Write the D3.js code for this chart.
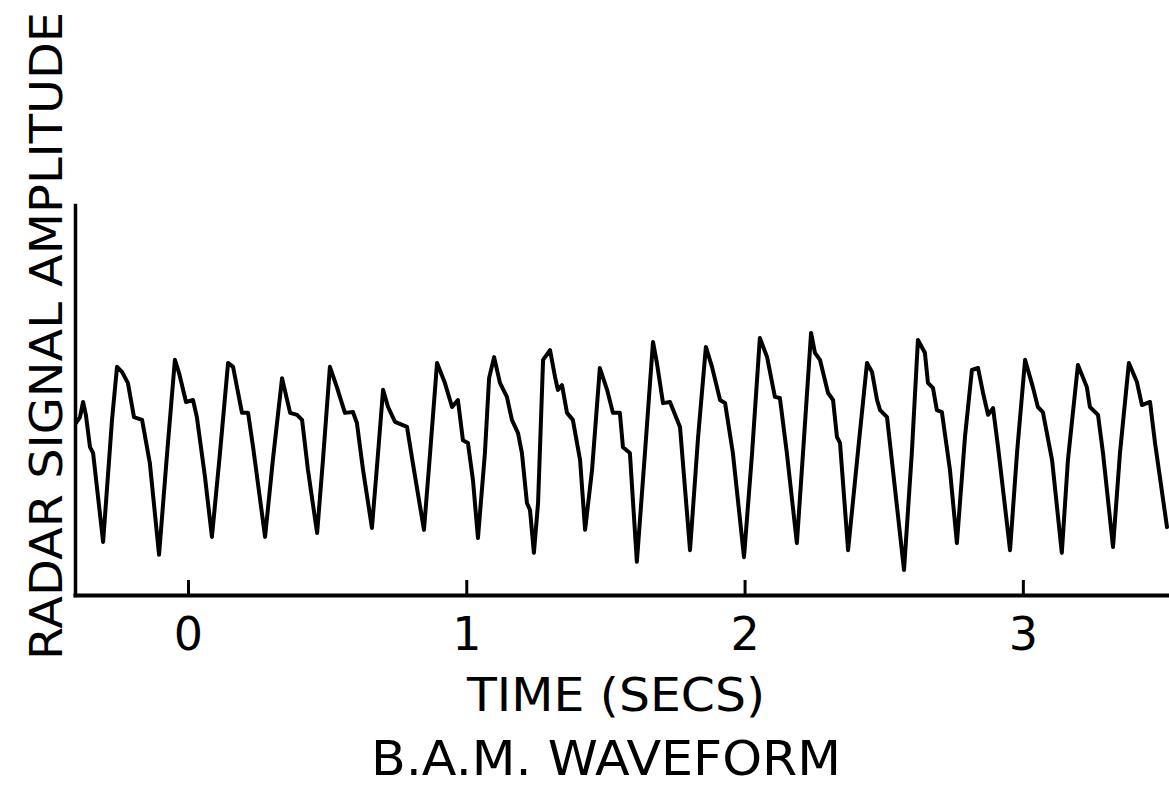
<!DOCTYPE html>
<html>
<head>
<meta charset="utf-8">
<script src="https://cdn.jsdelivr.net/npm/d3@7"></script>
<style>
  html, body { margin: 0; padding: 0; background: #ffffff; }
  svg { display: block; }
</style>
</head>
<body>
<svg id="chart" width="1169" height="786"></svg>
<script>
// ---- data ----
const timeSecs = [
  -0.402, -0.388, -0.377, -0.367, -0.352, -0.341, -0.305, -0.273, -0.255, -0.237,
  -0.216, -0.194, -0.165, -0.137, -0.104, -0.075, -0.047, -0.032, -0.007, 0.018,
  0.032, 0.061, 0.086, 0.115, 0.144, 0.162, 0.194, 0.216, 0.234, 0.277,
  0.305, 0.338, 0.367, 0.392, 0.410, 0.431, 0.464, 0.485, 0.510, 0.535,
  0.564, 0.593, 0.607, 0.629, 0.661, 0.683, 0.701, 0.719, 0.744, 0.787,
  0.808, 0.848, 0.870, 0.895, 0.923, 0.949, 0.970, 0.988, 1.006, 1.024,
  1.042, 1.067, 1.082, 1.100, 1.121, 1.146, 1.164, 1.186, 1.200, 1.218,
  1.229, 1.243, 1.258, 1.276, 1.301, 1.319, 1.329, 1.344, 1.362, 1.383,
  1.409, 1.427, 1.452, 1.480, 1.506, 1.527, 1.552, 1.563, 1.588, 1.613,
  1.642, 1.671, 1.685, 1.707, 1.732, 1.768, 1.804, 1.833, 1.861, 1.883,
  1.912, 1.930, 1.958, 1.998, 2.027, 2.055, 2.081, 2.109, 2.127, 2.152,
  2.188, 2.210, 2.239, 2.253, 2.271, 2.300, 2.318, 2.332, 2.343, 2.372,
  2.407, 2.440, 2.458, 2.476, 2.487, 2.512, 2.533, 2.573, 2.601, 2.623,
  2.648, 2.659, 2.677, 2.691, 2.709, 2.738, 2.763, 2.792, 2.817, 2.839,
  2.857, 2.875, 2.893, 2.911, 2.954, 2.979, 3.008, 3.036, 3.054, 3.072,
  3.105, 3.140, 3.162, 3.198, 3.230, 3.241, 3.270, 3.288, 3.324, 3.349,
  3.381, 3.410, 3.428, 3.457, 3.475, 3.518
];
const amplitude = [
  44.1, 45.6, 49.5, 46.2, 37.9, 36.4, 13.6, 44.9, 58.5, 57.2,
  54.4, 45.6, 44.9, 33.8, 10.3, 36.4, 60.3, 56.9, 49.5, 50.0,
  45.6, 30.3, 14.9, 36.4, 59.5, 58.5, 46.7, 46.7, 37.9, 14.9,
  34.6, 55.6, 46.7, 46.2, 44.9, 32.1, 15.9, 34.6, 58.5, 53.3,
  46.7, 46.9, 44.1, 32.1, 17.2, 36.4, 52.6, 48.2, 44.4, 43.1,
  33.8, 16.7, 36.4, 59.5, 54.4, 48.2, 50.0, 39.7, 39.0, 29.5,
  14.6, 36.4, 55.6, 61.0, 54.4, 50.8, 44.9, 41.5, 36.4, 23.6,
  21.8, 10.8, 23.6, 60.3, 62.8, 55.9, 52.6, 53.8, 46.7, 44.9,
  34.6, 16.7, 32.1, 58.2, 52.6, 46.7, 46.7, 37.9, 36.4, 8.5,
  36.4, 64.9, 59.5, 49.2, 49.5, 43.1, 11.5, 40.5, 63.6, 58.5,
  50.0, 49.2, 36.4, 9.7, 36.4, 65.9, 61.0, 50.8, 50.5, 36.4,
  13.3, 36.4, 67.2, 62.1, 60.3, 51.8, 50.0, 40.5, 39.0, 11.5,
  36.4, 59.5, 57.2, 50.0, 47.4, 45.6, 32.1, 6.4, 36.4, 65.4,
  62.1, 54.4, 53.1, 47.4, 46.9, 32.1, 13.3, 40.5, 57.7, 58.2,
  51.8, 46.2, 47.9, 37.9, 11.5, 36.4, 60.3, 53.3, 48.2, 46.9,
  34.6, 10.8, 34.6, 59.0, 53.3, 48.2, 46.2, 36.4, 12.3, 36.4,
  59.5, 54.6, 48.7, 49.5, 39.0, 17.4
];
const xTickValues = [0, 1, 2, 3];
const xTickLabels = ["0", "1", "2", "3"];
const xTitle = "TIME (SECS)";
const chartTitle = "B.A.M. WAVEFORM";
const yTitle = "RADAR SIGNAL AMPLITUDE";
const timeDomain = [-0.406, 3.518];
const ampDomain = [0, 100];

// ---- drawing ----
const svg = d3.select("#chart");
const FONT = "'DejaVu Sans', 'Liberation Sans', sans-serif";

const x = d3.scaleLinear().domain(timeDomain).range([75, 1167]);
const y = d3.scaleLinear().domain(ampDomain).range([595, 205]);

const points = timeSecs.map((t, i) => ({ t, a: amplitude[i] }));

// waveform
const line = d3.line()
  .x(d => x(d.t))
  .y(d => y(d.a))
  .curve(d3.curveLinear);

svg.append("path")
  .datum(points)
  .attr("d", line)
  .attr("fill", "none")
  .attr("stroke", "#000")
  .attr("stroke-width", 4)
  .attr("stroke-linejoin", "round")
  .attr("stroke-linecap", "round");

// y axis (no ticks)
const yAxisG = svg.append("g")
  .attr("transform", `translate(${x(timeDomain[0])},0)`)
  .call(d3.axisLeft(y).tickValues([]).tickSizeOuter(0));
yAxisG.select(".domain")
  .attr("stroke", "#000")
  .attr("stroke-width", 3.5)
  .attr("stroke-linecap", "square");

// x axis with inward ticks
const xAxisG = svg.append("g")
  .attr("transform", `translate(0,${y(ampDomain[0])})`)
  .call(d3.axisBottom(x)
    .tickValues(xTickValues)
    .tickSizeInner(-15)
    .tickSizeOuter(0)
    .tickPadding(22)
    .tickFormat((d, i) => xTickLabels[i]));
xAxisG.select(".domain")
  .attr("stroke", "#000")
  .attr("stroke-width", 4)
  .attr("stroke-linecap", "square");
xAxisG.selectAll(".tick line")
  .attr("stroke", "#000")
  .attr("stroke-width", 3);
xAxisG.selectAll(".tick text")
  .attr("fill", "#000")
  .style("font-family", FONT)
  .style("font-size", "46px");

// x title
svg.append("text")
  .attr("x", 616)
  .attr("y", 711)
  .attr("text-anchor", "middle")
  .attr("textLength", 298)
  .attr("lengthAdjust", "spacingAndGlyphs")
  .style("font-family", FONT)
  .style("font-size", "47px")
  .attr("fill", "#000")
  .text(xTitle);

// chart title (below)
svg.append("text")
  .attr("x", 606)
  .attr("y", 775)
  .attr("text-anchor", "middle")
  .attr("textLength", 470)
  .attr("lengthAdjust", "spacingAndGlyphs")
  .style("font-family", FONT)
  .style("font-size", "48px")
  .attr("fill", "#000")
  .text(chartTitle);

// y title (rotated)
svg.append("text")
  .attr("transform", "translate(62,336) rotate(-90)")
  .attr("text-anchor", "middle")
  .attr("textLength", 648)
  .attr("lengthAdjust", "spacingAndGlyphs")
  .style("font-family", FONT)
  .style("font-size", "45px")
  .attr("fill", "#000")
  .text(yTitle);
</script>
</body>
</html>
